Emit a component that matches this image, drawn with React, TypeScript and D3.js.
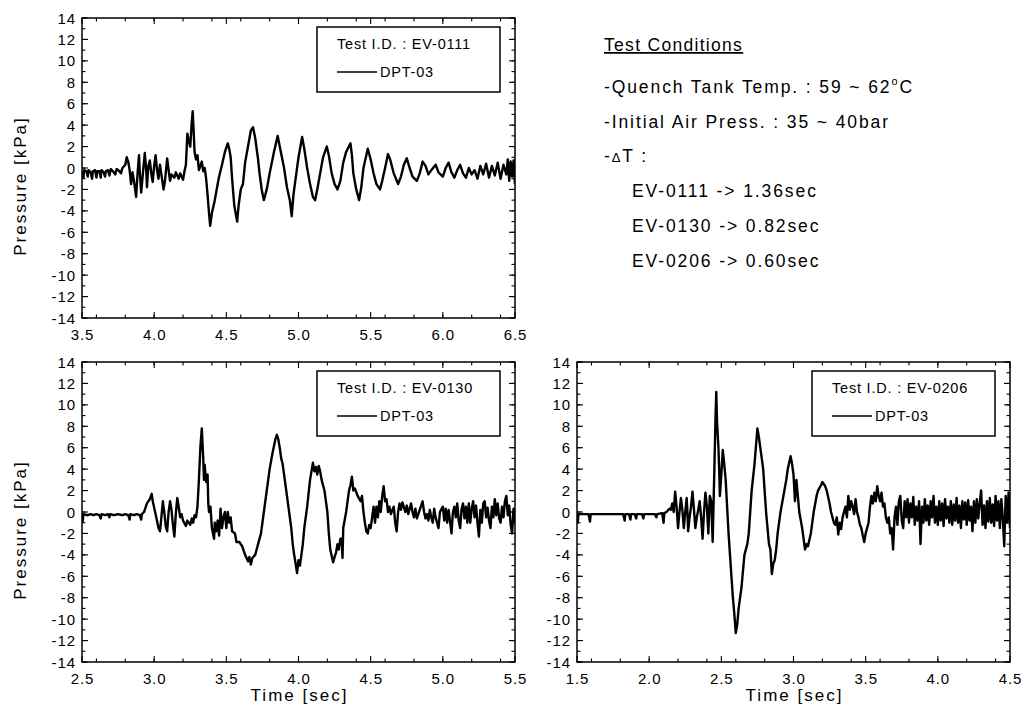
import React from "react";
import * as d3 from "d3";

// ---- chart data ----
const testIds = ["EV-0111", "EV-0130", "EV-0206"];
const sensorName = "DPT-03";
const timeRanges: [number, number][] = [[3.5, 6.5], [2.5, 5.5], [1.5, 4.5]];
const pressureRange: [number, number] = [-14, 14];
const yTitle = "Pressure [kPa]";
const xTitle = "Time [sec]";

const ev0111: [number, number][] = [
  [3.50,-0.3],[3.51,-0.9],[3.515,-0.2],[3.53,-0.3],[3.54,-0.8],[3.545,-0.2],[3.56,-0.4],[3.57,-1.0],[3.575,-0.3],[3.59,-0.2],
  [3.60,-0.9],[3.605,-0.3],[3.62,-0.3],[3.63,-0.9],[3.635,-0.2],[3.65,-0.4],[3.66,-0.8],[3.665,-0.3],[3.68,-0.2],[3.69,-0.7],
  [3.70,-0.1],[3.72,-0.4],[3.73,-0.6],[3.74,-0.1],[3.76,-0.3],[3.77,-0.5],[3.78,0.0],[3.80,0.3],[3.81,1.0],[3.82,0.6],
  [3.83,-0.2],[3.84,-1.5],[3.85,-0.4],[3.86,-1.2],[3.875,-2.7],[3.885,-0.5],[3.895,1.2],[3.90,-0.3],[3.91,-2.3],[3.92,-0.8],
  [3.935,1.4],[3.945,-0.2],[3.95,-1.8],[3.96,0.2],[3.97,0.7],[3.98,-0.5],[3.99,-1.3],[4.00,0.2],[4.01,1.2],[4.02,-0.2],
  [4.03,-1.0],[4.04,0.3],[4.05,-0.6],[4.065,-2.0],[4.075,-1.2],[4.09,0.9],[4.10,-0.2],[4.11,-1.2],[4.12,-0.6],[4.14,-0.9],
  [4.15,-0.4],[4.17,-1.0],[4.18,-0.5],[4.20,-1.1],[4.21,-0.3],[4.22,0.3],[4.23,3.2],[4.24,2.5],[4.25,2.0],[4.26,4.2],
  [4.267,5.3],[4.275,3.0],[4.28,1.5],[4.29,0.8],[4.30,1.2],[4.31,-0.2],[4.32,0.2],[4.33,0.6],[4.34,-0.3],[4.35,0.0],
  [4.36,-1.0],[4.37,-2.5],[4.38,-4.2],[4.388,-5.4],[4.40,-4.2],[4.42,-3.0],[4.44,-1.5],[4.45,-0.8],[4.47,0.3],[4.49,1.5],
  [4.51,2.3],[4.52,1.8],[4.53,1.0],[4.54,-1.0],[4.555,-3.5],[4.575,-5.0],[4.585,-3.5],[4.60,-2.0],[4.615,-1.5],[4.63,0.5],
  [4.65,2.0],[4.67,3.5],[4.685,3.8],[4.70,2.8],[4.72,0.8],[4.73,-0.5],[4.745,-2.0],[4.76,-3.0],[4.78,-2.0],[4.80,-0.5],
  [4.83,1.5],[4.856,3.0],[4.87,2.0],[4.90,0.0],[4.92,-1.8],[4.94,-3.0],[4.953,-4.5],[4.965,-2.5],[4.98,-1.0],[5.00,1.0],
  [5.025,2.9],[5.04,1.8],[5.06,0.0],[5.08,-1.5],[5.10,-2.7],[5.115,-3.0],[5.13,-2.0],[5.15,-0.5],[5.17,1.0],[5.196,2.0],
  [5.21,1.2],[5.23,-0.5],[5.25,-1.5],[5.27,-2.0],[5.29,-1.2],[5.31,0.5],[5.33,1.5],[5.36,2.3],[5.37,1.2],[5.38,-0.5],
  [5.40,-2.0],[5.42,-3.0],[5.435,-1.8],[5.45,0.0],[5.47,1.2],[5.48,1.8],[5.50,0.8],[5.52,-0.5],[5.54,-1.5],[5.565,-2.0],
  [5.58,-1.2],[5.60,0.0],[5.62,1.3],[5.635,0.8],[5.66,-0.5],[5.69,-1.5],[5.71,-0.8],[5.73,0.3],[5.75,0.9],[5.77,0.0],
  [5.79,-0.8],[5.82,-1.2],[5.84,-0.5],[5.86,0.6],[5.88,0.2],[5.90,-0.6],[5.92,-0.2],[5.95,0.3],[5.97,-0.4],[6.00,-0.8],
  [6.02,0.0],[6.04,0.5],[6.06,-0.4],[6.08,-0.9],[6.10,-0.2],[6.12,0.3],[6.14,-0.5],[6.16,-0.9],[6.18,0.0],[6.20,-0.6],
  [6.22,-0.2],[6.24,-1.0],[6.26,0.2],[6.28,-0.6],[6.30,0.4],[6.32,-0.9],[6.34,0.2],[6.36,-0.7],[6.38,0.5],[6.40,-1.0],
  [6.42,0.3],[6.44,-0.6],[6.45,0.8],[6.46,-1.2],[6.47,0.6],[6.48,-0.8],[6.49,0.7],[6.50,-1.5],
];

const ev0130: [number, number][] = [
  [2.50,-0.2],[2.505,-0.9],[2.51,-0.2],[2.54,-0.3],[2.56,-0.2],[2.58,-0.3],[2.60,-0.2],[2.62,-0.3],[2.63,-0.6],[2.635,-0.2],
  [2.66,-0.3],[2.68,-0.2],[2.69,-0.5],[2.695,-0.2],[2.72,-0.3],[2.75,-0.2],[2.78,-0.3],[2.80,-0.2],[2.82,-0.3],[2.83,-0.7],
  [2.835,-0.2],[2.86,-0.3],[2.88,-0.2],[2.90,-0.3],[2.91,-0.7],[2.915,-0.2],[2.93,0.0],[2.95,0.8],[2.97,1.2],[2.983,1.7],
  [2.99,1.0],[3.01,-0.2],[3.03,-1.5],[3.04,-1.8],[3.05,-0.5],[3.06,1.0],[3.07,0.0],[3.08,-1.3],[3.09,-1.8],[3.10,0.0],
  [3.11,1.0],[3.12,0.2],[3.13,-1.2],[3.14,-2.3],[3.15,-0.2],[3.16,1.3],[3.17,0.5],[3.18,-0.5],[3.19,-0.2],[3.20,-0.8],
  [3.22,-1.3],[3.23,-0.8],[3.25,-1.2],[3.26,-0.6],[3.27,-1.0],[3.28,-0.3],[3.29,-0.5],[3.30,0.5],[3.31,3.0],[3.32,6.0],
  [3.33,7.8],[3.34,5.0],[3.345,3.0],[3.35,4.4],[3.36,2.8],[3.37,3.5],[3.375,0.8],[3.38,0.0],[3.39,0.5],[3.40,-1.5],
  [3.415,-2.5],[3.42,-1.0],[3.43,-1.8],[3.44,-0.8],[3.45,-2.2],[3.46,0.3],[3.47,-1.5],[3.48,-0.5],[3.49,0.0],[3.50,-1.5],
  [3.51,0.0],[3.52,-1.0],[3.53,-0.5],[3.54,-1.8],[3.56,-2.0],[3.57,-2.8],[3.59,-2.8],[3.61,-3.2],[3.62,-3.6],[3.63,-4.0],
  [3.65,-4.6],[3.66,-4.2],[3.67,-4.9],[3.68,-4.3],[3.70,-4.0],[3.71,-3.5],[3.72,-3.0],[3.74,-2.0],[3.76,0.0],[3.78,2.0],
  [3.80,4.0],[3.82,5.5],[3.84,6.8],[3.85,7.2],[3.86,6.8],[3.87,6.0],[3.88,5.0],[3.89,4.5],[3.91,2.5],[3.93,0.5],
  [3.95,-1.5],[3.96,-3.0],[3.97,-4.0],[3.98,-4.8],[3.99,-5.7],[4.00,-4.5],[4.01,-5.0],[4.02,-4.0],[4.03,-3.0],[4.04,-1.5],
  [4.06,0.5],[4.08,3.0],[4.10,4.6],[4.11,3.8],[4.12,4.2],[4.13,3.5],[4.14,4.3],[4.15,3.8],[4.16,3.0],[4.18,2.0],
  [4.20,0.0],[4.21,-2.0],[4.22,-3.5],[4.24,-4.7],[4.25,-4.2],[4.26,-3.8],[4.27,-3.0],[4.28,-3.5],[4.29,-2.5],[4.30,-2.5],
  [4.305,-4.3],[4.31,-1.5],[4.33,0.0],[4.35,2.0],[4.36,2.5],[4.37,3.3],[4.38,2.0],[4.39,2.2],[4.41,1.5],[4.43,1.0],
  [4.44,1.5],[4.45,0.0],[4.46,-1.0],[4.47,-1.8],[4.48,-2.0],[4.49,-1.2],[4.50,-1.5],[4.51,-0.5],[4.52,0.5],[4.53,-1.0],
  [4.54,0.5],[4.55,-0.5],[4.56,1.0],[4.57,0.0],[4.58,1.5],[4.59,2.4],[4.60,1.0],[4.61,1.2],[4.62,0.0],[4.63,0.5],
  [4.64,-0.2],[4.66,0.5],[4.67,-1.0],[4.68,-1.8],[4.69,0.0],[4.70,0.8],[4.71,0.2],[4.72,0.9],[4.74,0.0],[4.75,0.6],
  [4.76,-0.2],[4.78,0.8],[4.79,0.0],[4.80,-0.5],[4.81,0.3],[4.82,-0.6],[4.84,0.2],[4.86,1.0],[4.87,0.0],[4.88,-0.6],
  [4.89,-0.2],[4.90,-0.8],[4.91,0.2],[4.92,-0.5],[4.93,-1.0],[4.94,0.3],[4.95,-0.5],[4.97,-1.5],[4.98,0.0],[5.00,0.5],
  [5.01,-0.8],[5.02,0.3],[5.03,-1.0],[5.04,0.2],[5.06,-2.0],[5.07,0.0],[5.08,0.5],[5.09,-0.5],[5.10,0.8],[5.11,-0.8],
  [5.12,-1.5],[5.13,0.3],[5.14,0.8],[5.15,-0.6],[5.16,0.5],[5.17,-1.0],[5.18,0.8],[5.19,-1.0],[5.20,0.3],[5.21,1.0],
  [5.22,-0.5],[5.23,0.6],[5.24,-1.0],[5.25,-2.3],[5.26,0.2],[5.27,-1.0],[5.28,0.8],[5.29,1.0],[5.30,-0.5],[5.31,0.4],
  [5.32,-0.8],[5.33,-1.5],[5.34,0.5],[5.35,-0.5],[5.36,1.2],[5.37,-0.3],[5.38,0.8],[5.39,-0.6],[5.40,-1.0],[5.41,0.5],
  [5.42,-0.5],[5.43,1.0],[5.44,1.5],[5.45,-0.3],[5.46,0.6],[5.47,-1.2],[5.48,-2.0],[5.49,0.3],[5.50,-1.0],
];

const ev0206: [number, number][] = [
  [1.50,-0.2],[1.505,-1.0],[1.51,-0.2],[1.55,-0.2],[1.58,-0.2],[1.59,-0.9],[1.595,-0.2],[1.65,-0.2],[1.70,-0.2],[1.75,-0.2],
  [1.80,-0.2],[1.82,-0.2],[1.83,-0.8],[1.835,-0.2],[1.86,-0.2],[1.87,-0.7],[1.875,-0.2],[1.90,-0.2],[1.91,-0.6],[1.915,-0.2],
  [1.95,-0.2],[1.96,-0.6],[1.965,-0.2],[2.00,-0.2],[2.04,-0.2],[2.05,-0.5],[2.055,-0.2],[2.09,-0.1],[2.10,-1.0],[2.105,-0.1],
  [2.12,0.0],[2.14,0.3],[2.15,0.2],[2.16,0.8],[2.17,0.0],[2.18,1.9],[2.19,0.5],[2.20,-1.5],[2.21,0.0],[2.22,1.3],
  [2.23,0.2],[2.24,-1.5],[2.25,0.0],[2.26,1.3],[2.265,0.0],[2.27,-1.8],[2.28,-0.5],[2.29,0.5],[2.30,1.9],[2.31,0.3],
  [2.32,-1.5],[2.33,-0.5],[2.34,0.2],[2.35,1.0],[2.36,-0.5],[2.37,-2.5],[2.38,0.0],[2.39,1.8],[2.40,0.5],[2.41,-2.0],
  [2.42,1.5],[2.43,1.0],[2.44,-2.8],[2.45,3.0],[2.46,9.0],[2.465,11.2],[2.47,8.5],[2.48,6.0],[2.485,4.0],[2.49,1.5],
  [2.50,3.5],[2.51,5.8],[2.52,4.5],[2.53,3.0],[2.54,0.5],[2.55,-2.0],[2.56,-4.0],[2.57,-6.0],[2.58,-8.0],[2.59,-9.5],
  [2.60,-11.3],[2.61,-10.5],[2.62,-9.0],[2.63,-8.0],[2.64,-7.0],[2.65,-5.5],[2.66,-4.0],[2.68,-3.0],[2.69,-2.0],[2.70,0.0],
  [2.71,2.0],[2.73,4.5],[2.75,7.8],[2.76,7.0],[2.77,6.0],[2.78,5.0],[2.79,4.0],[2.80,2.0],[2.81,0.0],[2.82,-1.5],
  [2.83,-3.0],[2.84,-3.5],[2.85,-5.8],[2.86,-4.8],[2.87,-4.5],[2.88,-3.5],[2.89,-2.0],[2.91,0.0],[2.93,1.5],[2.95,3.0],
  [2.96,4.0],[2.98,5.2],[2.99,4.5],[3.00,3.5],[3.01,1.0],[3.02,3.0],[3.03,1.5],[3.04,0.0],[3.06,-1.5],[3.07,-2.5],
  [3.08,-3.5],[3.09,-3.0],[3.10,-3.2],[3.12,-2.0],[3.14,0.0],[3.16,1.5],[3.17,2.0],[3.19,2.5],[3.20,2.8],[3.22,2.4],
  [3.23,2.0],[3.25,0.8],[3.26,0.0],[3.28,-1.0],[3.29,-1.2],[3.30,-0.5],[3.31,-2.1],[3.32,-1.0],[3.33,-1.6],[3.34,-0.5],
  [3.36,0.5],[3.37,-0.5],[3.38,1.5],[3.39,0.2],[3.40,1.0],[3.41,0.5],[3.42,-0.2],[3.43,1.2],[3.44,0.0],[3.45,-0.5],
  [3.46,-1.2],[3.47,-1.5],[3.48,-2.2],[3.49,-2.8],[3.50,-2.0],[3.51,-1.5],[3.52,-1.0],[3.53,0.5],[3.54,1.5],[3.55,0.8],
  [3.56,1.8],[3.57,1.0],[3.58,2.4],[3.59,1.5],[3.60,1.0],[3.61,1.8],[3.62,0.5],[3.63,0.8],[3.64,-0.5],[3.65,-1.0],
  [3.66,-0.5],[3.67,-2.0],[3.68,-1.5],[3.69,-3.5],[3.70,-0.5],[3.71,0.5],[3.72,-1.2],[3.73,1.0],[3.74,1.5],[3.75,-0.8],
  [3.76,-1.5],[3.77,1.0],[3.78,-0.5],[3.79,1.2],[3.80,-1.0],[3.81,0.8],[3.82,-0.5],[3.83,1.4],[3.84,-1.2],[3.85,0.5],
  [3.86,-0.8],[3.87,1.0],[3.88,-3.0],[3.89,0.5],[3.90,-1.0],[3.91,1.2],[3.92,-0.8],[3.93,0.6],[3.94,-1.2],[3.95,1.0],
  [3.96,-0.5],[3.97,1.5],[3.98,-1.0],[3.99,0.5],[4.00,-1.2],[4.01,1.0],[4.02,-0.8],[4.03,0.8],[4.04,-1.3],[4.05,1.2],
  [4.06,-0.6],[4.07,0.5],[4.08,-1.0],[4.09,1.0],[4.10,-1.2],[4.11,0.7],[4.12,-0.8],[4.13,1.3],[4.14,-1.0],[4.15,0.6],
  [4.16,-1.5],[4.17,1.0],[4.18,-0.7],[4.19,0.9],[4.20,-1.2],[4.21,1.1],[4.22,-0.8],[4.23,0.5],[4.24,-1.8],[4.25,1.0],
  [4.26,-1.0],[4.27,1.2],[4.28,-0.6],[4.29,0.8],[4.30,2.0],[4.31,-1.2],[4.32,0.6],[4.33,-1.5],[4.34,1.0],[4.35,-0.9],
  [4.36,1.3],[4.37,-1.0],[4.38,0.7],[4.39,-1.3],[4.40,1.5],[4.41,-0.8],[4.42,1.0],[4.43,-1.5],[4.44,1.2],[4.45,-0.5],
  [4.46,-3.2],[4.47,1.5],[4.48,-1.0],[4.49,1.8],[4.50,-1.5],
];

const seriesList = [ev0111, ev0130, ev0206];

const conditionsTitle = "Test Conditions";
const deltaTimes = ["1.36sec", "0.82sec", "0.60sec"];

const FONT = "Arial, 'Liberation Sans', Helvetica, sans-serif";
const W = 433;
const H = 300;

type PanelProps = {
  left: number;
  top: number;
  idx: number;
  showXTitle: boolean;
  showYTitle: boolean;
};

function Panel({ left, top, idx, showXTitle, showYTitle }: PanelProps) {
  const x = d3.scaleLinear().domain(timeRanges[idx]).range([0, W]);
  const y = d3.scaleLinear().domain(pressureRange).range([H, 0]);
  const line = d3
    .line<[number, number]>()
    .x((d) => x(d[0]))
    .y((d) => y(d[1]));

  const xMajor = x.ticks(6);
  const xMinor = x.ticks(12);
  const yMajor = y.ticks(14);
  const yMinor = y.ticks(28);
  const clipId = `clip-${idx}`;

  return (
    <g transform={`translate(${left},${top})`}>
      <defs>
        <clipPath id={clipId}>
          <rect x={0} y={0} width={W} height={H} />
        </clipPath>
      </defs>

      <path
        d={line(seriesList[idx]) || ""}
        fill="none"
        stroke="#000"
        strokeWidth={2.4}
        strokeLinejoin="round"
        clipPath={`url(#${clipId})`}
      />

      {/* ticks, pointing inward on all four sides */}
      <g stroke="#000" strokeWidth={1.1}>
        {xMinor.map((t) => (
          <g key={"xm" + t}>
            <line x1={x(t)} x2={x(t)} y1={H} y2={H - 3.5} />
            <line x1={x(t)} x2={x(t)} y1={0} y2={3.5} />
          </g>
        ))}
        {xMajor.map((t) => (
          <g key={"xM" + t}>
            <line x1={x(t)} x2={x(t)} y1={H} y2={H - 6} />
            <line x1={x(t)} x2={x(t)} y1={0} y2={6} />
          </g>
        ))}
        {yMinor.map((t) => (
          <g key={"ym" + t}>
            <line x1={0} x2={3.5} y1={y(t)} y2={y(t)} />
            <line x1={W} x2={W - 3.5} y1={y(t)} y2={y(t)} />
          </g>
        ))}
        {yMajor.map((t) => (
          <g key={"yM" + t}>
            <line x1={0} x2={6} y1={y(t)} y2={y(t)} />
            <line x1={W} x2={W - 6} y1={y(t)} y2={y(t)} />
          </g>
        ))}
      </g>

      <rect x={0} y={0} width={W} height={H} fill="none" stroke="#000" strokeWidth={1.5} />

      {/* tick labels */}
      <g fontFamily={FONT} fontSize={15} fill="#000" letterSpacing={0.9}>
        {xMajor.map((t) => (
          <text key={"xl" + t} x={x(t) + 0.5} y={H + 22} textAnchor="middle">
            {t.toFixed(1)}
          </text>
        ))}
        {yMajor.map((t) => (
          <text key={"yl" + t} x={-6} y={y(t) + 5.5} textAnchor="end">
            {String(t)}
          </text>
        ))}
      </g>

      {showYTitle && (
        <text
          transform={`translate(${26 - left},${H / 2 + 18}) rotate(-90)`}
          textAnchor="middle"
          fontFamily={FONT}
          fontSize={17}
          letterSpacing={2}
        >
          {yTitle}
        </text>
      )}
      {showXTitle && (
        <text
          x={W / 2 + 1}
          y={H + 39}
          textAnchor="middle"
          fontFamily={FONT}
          fontSize={17}
          letterSpacing={2}
        >
          {xTitle}
        </text>
      )}

      {/* legend box */}
      <g transform="translate(235,9)">
        <rect x={0} y={0} width={183} height={65} fill="#fff" stroke="#000" strokeWidth={1.5} />
        <text x={20} y={22} fontFamily={FONT} fontSize={14.5} letterSpacing={0.8}>
          {`Test I.D. : ${testIds[idx]}`}
        </text>
        <line x1={20} x2={60} y1={45} y2={45} stroke="#000" strokeWidth={1.3} />
        <text x={63} y={50} fontFamily={FONT} fontSize={14.5} letterSpacing={0.8}>
          {sensorName}
        </text>
      </g>
    </g>
  );
}

function Conditions() {
  const tx = 604;
  const ev = 632;
  return (
    <g fontFamily={FONT} fontSize={17.5} fill="#000" letterSpacing={1.9}>
      <text x={tx} y={51} textDecoration="underline" letterSpacing={1.3}>
        {conditionsTitle}
      </text>
      <text x={tx} y={93}>
        -Quench Tank Temp. : 59 ~ 62
        <tspan fontSize={11} dy={-8}>o</tspan>
        <tspan dy={8}>C</tspan>
      </text>
      <text x={tx} y={128}>-Initial Air Press. : 35 ~ 40bar</text>
      <text x={tx} y={162}>
        -<tspan fontSize={13}>Δ</tspan>T :
      </text>
      {testIds.map((id, i) => (
        <text key={id} x={ev} y={197 + i * 35}>
          {`${id} -> ${deltaTimes[i]}`}
        </text>
      ))}
    </g>
  );
}

export default function App() {
  return (
    <svg
      width={1024}
      height={720}
      style={{ position: "absolute", left: 0, top: 0, background: "#fff" }}
    >
      <rect width={1024} height={720} fill="#fff" />
      <Panel left={82} top={18} idx={0} showXTitle={false} showYTitle={true} />
      <Panel left={82} top={362} idx={1} showXTitle={true} showYTitle={true} />
      <Panel left={577} top={362} idx={2} showXTitle={true} showYTitle={false} />
      <Conditions />
    </svg>
  );
}
